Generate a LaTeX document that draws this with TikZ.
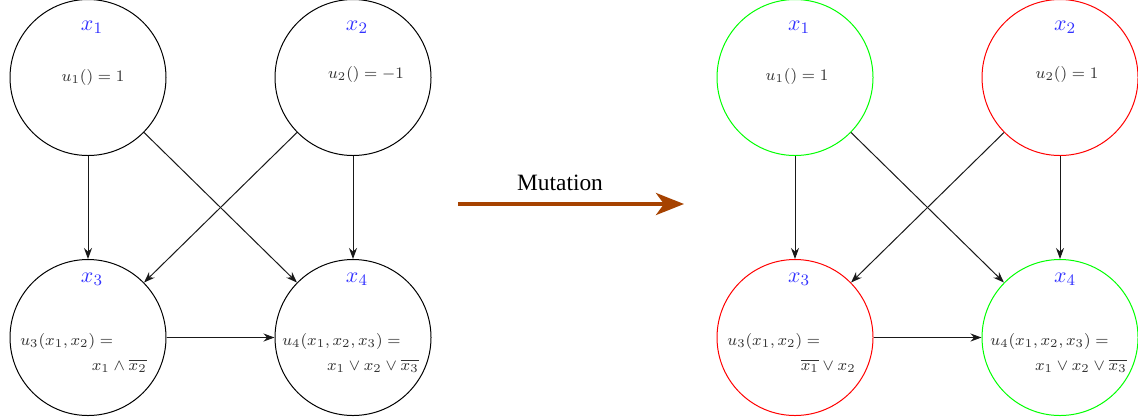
\documentclass[tikz,border=0pt]{standalone}
\usepackage{fontspec}
\newfontfamily\timesfont{Liberation Serif}
\usetikzlibrary{arrows.meta}
\definecolor{mutbrown}{RGB}{166,66,0}
\definecolor{labblue}{RGB}{50,50,255}
\begin{document}
\begin{tikzpicture}[x=0.5pt,y=-0.5pt,
  var/.style={circle,draw,line width=0.5pt,minimum size=78pt,inner sep=0pt},
  lab/.style={text=labblue,font=\fontsize{11}{13}\selectfont,inner sep=0pt},
  fn/.style={text=black!80,font=\fontsize{8.5}{10}\selectfont,inner sep=0pt},
  conn/.style={draw=black!90,line width=0.5pt,-{Stealth[length=5.5pt,width=4pt]}}]
\useasboundingbox (0,0) rectangle (1138,419);
% left graph
\node[var] (a1) at (88,77.5) {};
\node[var] (a2) at (353,77.5) {};
\node[var] (a3) at (88,337.5) {};
\node[var] (a4) at (353,337.5) {};
\node[lab] (la1) at (92,27) {$x_1$};
\node[lab] (la2) at (357,27) {$x_2$};
\node[lab] (la3) at (92,279) {$x_3$};
\node[lab] (la4) at (357,279) {$x_4$};
\node[fn] (fa1) at (93,77) {$u_1() = 1$};
\node[fn] (fa2) at (366,74) {$u_2() = -1$};
\node[fn,anchor=west] (fa3a) at (20,341) {$u_3(x_1,x_2) =$};
\node[fn,anchor=east] (fa3b) at (147,366) {$x_1 \wedge \overline{x_2}$};
\node[fn,anchor=west] (fa4a) at (282,341) {$u_4(x_1,x_2,x_3) =$};
\node[fn,anchor=east] (fa4b) at (419,366) {$x_1 \vee x_2 \vee \overline{x_3}$};
\draw[conn] (a1) -- (a3);
\draw[conn] (a1) -- (a4);
\draw[conn] (a2) -- (a3);
\draw[conn] (a2) -- (a4);
\draw[conn] (a3) -- (a4);
% mutation arrow
\coordinate (ms) at (458,204);
\coordinate (me) at (684,204);
\draw[draw=mutbrown,line width=2pt,-{Stealth[length=14pt,width=11pt,inset=4pt]}] (ms) -- (me);
\node[inner sep=0pt,font=\timesfont\fontsize{11.7}{14}\selectfont] (mt) at (560,183) {Mutation};
% right graph
\node[var,draw=green] (b1) at (795,77.5) {};
\node[var,draw=red] (b2) at (1060,77.5) {};
\node[var,draw=red] (b3) at (795,337.5) {};
\node[var,draw=green] (b4) at (1060,337.5) {};
\node[lab] (lb1) at (799,27) {$x_1$};
\node[lab] (lb2) at (1065,27) {$x_2$};
\node[lab] (lb3) at (799,279) {$x_3$};
\node[lab] (lb4) at (1065,279) {$x_4$};
\node[fn] (fb1) at (797,76) {$u_1() = 1$};
\node[fn] (fb2) at (1067,74) {$u_2() = 1$};
\node[fn,anchor=west] (fb3a) at (727,341) {$u_3(x_1,x_2) =$};
\node[fn,anchor=east] (fb3b) at (856,366) {$\overline{x_1} \vee x_2$};
\node[fn,anchor=west] (fb4a) at (990,341) {$u_4(x_1,x_2,x_3) =$};
\node[fn,anchor=east] (fb4b) at (1127,366) {$x_1 \vee x_2 \vee \overline{x_3}$};
\draw[conn] (b1) -- (b3);
\draw[conn] (b1) -- (b4);
\draw[conn] (b2) -- (b3);
\draw[conn] (b2) -- (b4);
\draw[conn] (b3) -- (b4);
\end{tikzpicture}
\end{document}
